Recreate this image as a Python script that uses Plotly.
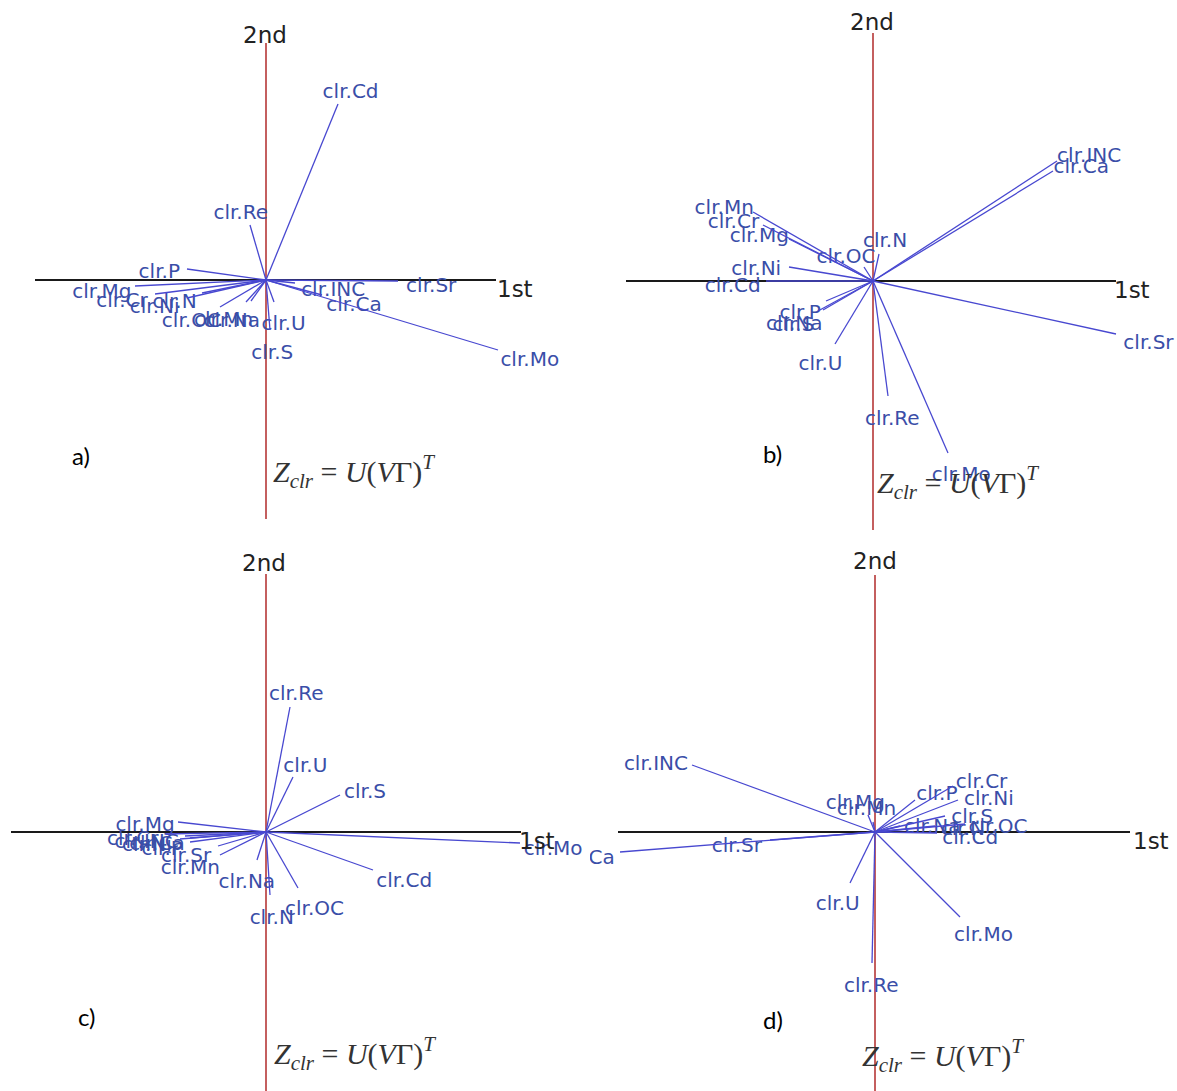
import math
import plotly.graph_objects as go

W, H = 1177, 1091

# ---------------- data: loadings on 1st / 2nd component (units of the biplot) -------------
vars_a = ["Cd", "Re", "P", "Mg", "Cr", "Ni", "N", "OC", "Mn", "Na", "U", "S", "INC", "Sr", "Ca", "Mo"]
pc1_a = [0.72, -0.16, -0.79, -1.31, -1.11, -0.79, -0.64, -0.46, -0.20, -0.15, 0.08, 0.04, 0.29, 1.32, 0.56, 2.32]
pc2_a = [1.76, 0.55, 0.11, -0.06, -0.14, -0.18, -0.13, -0.27, -0.22, -0.21, -0.22, -0.50, -0.03, -0.01, -0.15, -0.70]

vars_b = ["INC", "Ca", "Mn", "Cr", "Mg", "N", "OC", "Ni", "Cd", "P", "S", "Na", "U", "Re", "Mo", "Sr"]
pc1_b = [1.84, 1.80, -1.20, -1.10, -0.84, 0.06, -0.09, -0.84, -1.07, -0.47, -0.55, -0.50, -0.38, 0.15, 0.75, 2.43]
pc2_b = [1.20, 1.10, 0.69, 0.56, 0.42, 0.27, 0.14, 0.14, 0.00, -0.20, -0.30, -0.29, -0.63, -1.15, -1.72, -0.53]

vars_c = ["Re", "U", "S", "Cd", "Mo", "OC", "N", "Na", "Mg", "Cr", "INC", "Ni", "Ca", "P", "Sr", "Mn"]
pc1_c = [0.24, 0.27, 0.74, 1.07, 2.54, 0.32, 0.04, -0.09, -0.88, -1.00, -0.81, -0.86, -0.76, -0.76, -0.48, -0.46]
pc2_c = [1.25, 0.55, 0.37, -0.38, -0.11, -0.56, -0.63, -0.28, 0.10, -0.02, -0.04, -0.07, -0.06, -0.10, -0.14, -0.23]

vars_d = ["INC", "Sr", "Ca", "U", "Re", "Mo", "Mg", "Mn", "P", "Cr", "Ni", "S", "Na", "N", "OC", "Cd"]
pc1_d = [-1.83, -1.05, -2.55, -0.25, -0.03, 0.85, -0.07, -0.02, 0.40, 0.78, 0.83, 0.70, 0.25, 0.60, 0.90, 0.62]
pc2_d = [0.67, -0.08, -0.20, -0.51, -1.31, -0.85, 0.17, 0.10, 0.32, 0.46, 0.32, 0.16, 0.06, 0.06, 0.08, -0.01]

panel_tags = ["a)", "b)", "c)", "d)"]
axis_names = ["1st", "2nd"]
prefix = "clr."

# ---------------- layout helpers ----------------
PX = 100.0  # pixels per unit
panels = [
    dict(vars=vars_a, x=pc1_a, y=pc2_a, o=(266, 280), xd=(0, 590), yd=(0, 540),
         hx=(-2.31, 2.30), vy=(-2.39, 2.37), tag=(81, 455), form=(354, 471),
         first=(515, 289), second=(265, 35), clip=False),
    dict(vars=vars_b, x=pc1_b, y=pc2_b, o=(873, 281), xd=(590, 1177), yd=(0, 540),
         hx=(-2.47, 2.43), vy=(-2.49, 2.48), tag=(772, 453), form=(958, 482),
         first=(1132, 290), second=(872, 22), clip=False),
    dict(vars=vars_c, x=pc1_c, y=pc2_c, o=(266, 832), xd=(0, 590), yd=(540, 1091),
         hx=(-2.55, 2.55), vy=(-2.62, 2.58), tag=(86, 1016), form=(355, 1053),
         first=(537, 841), second=(264, 563), clip=False),
    dict(vars=vars_d, x=pc1_d, y=pc2_d, o=(875, 832), xd=(590, 1177), yd=(540, 1091),
         hx=(-2.57, 2.55), vy=(-2.62, 2.57), tag=(773, 1020), form=(943, 1055),
         first=(1151, 841), second=(875, 561), clip=True),
]

LINE_BLUE = "#4848d0"
TEXT_BLUE = "#3a4ea8"
LABEL_FONT = "DejaVu Sans, Liberation Sans, Arial, sans-serif"
FS = 20

fig = go.Figure()
layout = dict(width=W, height=H, margin=dict(l=0, r=0, t=0, b=0),
              paper_bgcolor="white", plot_bgcolor="white", showlegend=False)
annotations = []


def ann(pos, text, font):
    return dict(x=pos[0] / W, y=1 - pos[1] / H, xref="paper", yref="paper", text=text,
                showarrow=False, xanchor="center", yanchor="middle", font=font)


for i, p in enumerate(panels):
    k = "" if i == 0 else str(i + 1)
    xa, ya = "x" + k, "y" + k
    ox, oy = p["o"]
    x0, x1 = p["xd"]
    y0, y1 = p["yd"]
    layout["xaxis" + k] = dict(domain=[x0 / W, x1 / W], range=[(x0 - ox) / PX, (x1 - ox) / PX],
                               visible=False, fixedrange=True)
    layout["yaxis" + k] = dict(domain=[1 - y1 / H, 1 - y0 / H], range=[(oy - y1) / PX, (oy - y0) / PX],
                               visible=False, fixedrange=True)

    # axes of the biplot
    fig.add_trace(go.Scatter(x=[p["hx"][0], p["hx"][1]], y=[0, 0], mode="lines",
                             line=dict(color="#1a1a1a", width=2), xaxis=xa, yaxis=ya, hoverinfo="skip"))
    fig.add_trace(go.Scatter(x=[0, 0], y=[p["vy"][0], p["vy"][1]], mode="lines",
                             line=dict(color="#b02a2a", width=1.5), xaxis=xa, yaxis=ya, hoverinfo="skip"))

    # labels placed just beyond each vector tip
    lx, ly, lt = [], [], []
    for name, vx, vy in zip(p["vars"], p["x"], p["y"]):
        txt = prefix + name
        r = math.hypot(vx, vy) or 1.0
        ux, uy = vx / r, vy / r
        w = 10.4 * len(txt)
        lx.append(vx + ux * (w / 2 + 2) / PX)
        ly.append(vy + (uy * 18 - 6) / PX)
        lt.append(txt)
    fig.add_trace(go.Scatter(x=lx, y=ly, text=lt, mode="text", textposition="middle center",
                             textfont=dict(family=LABEL_FONT, size=FS, color=TEXT_BLUE),
                             xaxis=xa, yaxis=ya, hoverinfo="skip", cliponaxis=p["clip"]))

    # vectors from the origin
    vxs, vys = [], []
    for vx, vy in zip(p["x"], p["y"]):
        vxs += [0, vx, None]
        vys += [0, vy, None]
    fig.add_trace(go.Scatter(x=vxs, y=vys, mode="lines", line=dict(color=LINE_BLUE, width=1.3),
                             xaxis=xa, yaxis=ya, hoverinfo="skip"))

    axis_font = dict(family=LABEL_FONT, size=23, color="#222222")
    annotations.append(ann(p["first"], axis_names[0], axis_font))
    annotations.append(ann(p["second"], axis_names[1], axis_font))
    annotations.append(ann(p["tag"], panel_tags[i],
                           dict(family="Lato, Open Sans, sans-serif", size=24, color="#000000")))
    annotations.append(ann(p["form"],
                           "<i>Z</i><sub><i>clr</i></sub> = <i>U</i>(<i>V</i>Γ)<sup><i>T</i></sup>",
                           dict(family="Liberation Serif, DejaVu Serif, serif", size=30, color="#333333")))

layout["annotations"] = annotations
fig.update_layout(**layout)
fig.write_html("out.html", config={"displayModeBar": False},
               post_script="document.body.style.margin='0px';document.body.style.overflow='hidden';")
